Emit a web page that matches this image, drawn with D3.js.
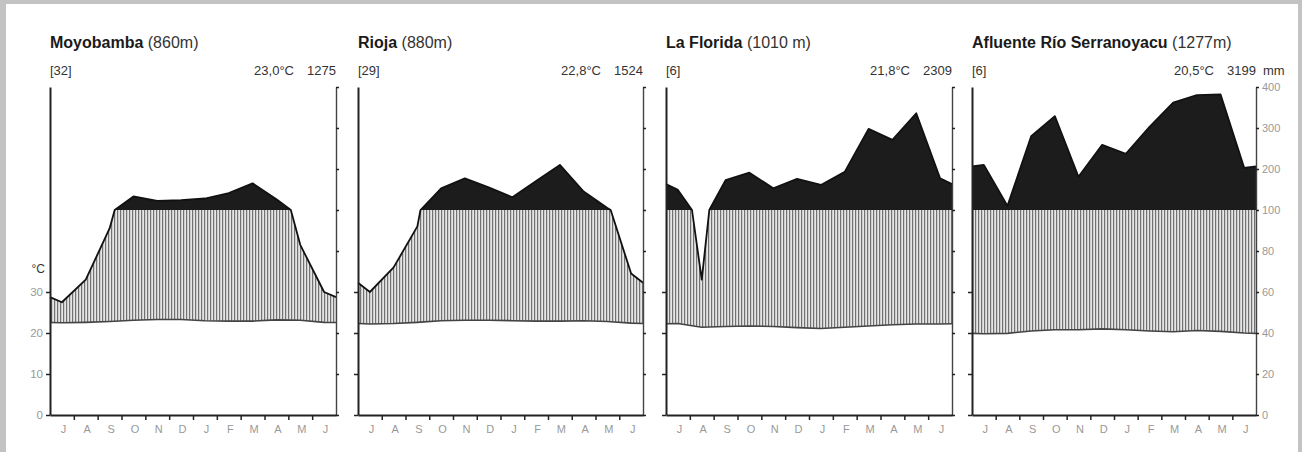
<!DOCTYPE html>
<html><head><meta charset="utf-8">
<script src="https://cdn.jsdelivr.net/npm/d3@7"></script>
<style>
body{margin:0;background:#fff;}
svg{display:block;font-family:"Liberation Sans",Arial,sans-serif;}
</style></head><body>
<svg id="c" width="1302" height="452"></svg>
<script>
// ---- data ----
const months = ["J","A","S","O","N","D","J","F","M","A","M","J"];
const stationNames = ["Moyobamba","Rioja","La Florida","Afluente Río Serranoyacu"];
const elevations = ["(860m)","(880m)","(1010 m)","(1277m)"];
const yearsObserved = ["[32]","[29]","[6]","[6]"];
const meanTempLabels = ["23,0°C","22,8°C","21,8°C","20,5°C"];
const annualPrecipLabels = ["1275","1524","2309","3199"];
const tempTicks = [0,10,20,30];
const precipTicks = [0,20,40,60,80,100,200,300,400];

const tempMoyobamba = [22.5,22.6,22.8,23.1,23.3,23.3,23.0,22.9,22.9,23.2,23.1,22.6];
const tempRioja     = [22.2,22.3,22.6,23.0,23.1,23.1,23.0,22.9,22.9,23.0,22.8,22.4];
const tempLaFlorida = [22.3,21.4,21.6,21.7,21.6,21.3,21.1,21.4,21.7,22.0,22.2,22.2];
const tempAfluente  = [19.8,19.9,20.5,20.8,20.8,21.0,20.8,20.5,20.3,20.6,20.4,20.0];

const precMoyobamba = [55,66,91,133,122,124,128,141,165,126,83,60];
const precRioja     = [60,72,92,153,177,155,131,171,210,145,105,69];
const precLaFlorida = [149,66,173,191,153,176,161,193,298,271,336,177];
const precAfluente  = [210,110,280,329,181,259,237,303,362,380,382,203];

const temps = [tempMoyobamba,tempRioja,tempLaFlorida,tempAfluente];
const precs = [precMoyobamba,precRioja,precLaFlorida,precAfluente];

// ---- layout ----
const panelLeft = [50,358,666,972];
const panelWidth = [286,285,286,284];
const yBottom = 415, yTop = 87;

const svg = d3.select("#c");
svg.append("rect").attr("width",1302).attr("height",452).attr("fill","#c3c3c3");
svg.append("rect").attr("x",6).attr("y",4).attr("width",1292).attr("height",448).attr("fill","#fff");

const defs = svg.append("defs");
const pat = defs.append("pattern").attr("id","hatch").attr("patternUnits","userSpaceOnUse")
  .attr("width",3).attr("height",10);
pat.append("rect").attr("width",3).attr("height",10).attr("fill","#cdcdcd");
pat.append("rect").attr("x",0).attr("width",1).attr("height",10).attr("fill","#727272");
pat.append("rect").attr("x",2).attr("width",0.8).attr("height",10).attr("fill","#ececec");

const yT = d3.scaleLinear().domain([0,80]).range([yBottom,yTop]);
const yP = d3.scaleLinear().domain([0,100,400]).range([yBottom,yT(50),yTop]);

function buildPoints(temp, prec){
  const tEdge=(temp[0]+temp[11])/2, pEdge=(prec[0]+prec[11])/2;
  const pts=[{m:0,t:tEdge,p:pEdge}];
  for(let i=0;i<12;i++) pts.push({m:i+0.5,t:temp[i],p:prec[i]});
  pts.push({m:12,t:tEdge,p:pEdge});
  const out=[pts[0]];
  for(let k=1;k<pts.length;k++){
    const a=pts[k-1], b=pts[k];
    if((a.p-100)*(b.p-100)<0){
      const f=(100-a.p)/(b.p-a.p);
      out.push({m:a.m+f*(b.m-a.m), t:a.t+f*(b.t-a.t), p:100});
    }
    out.push(b);
  }
  return out;
}

for(let s=0;s<4;s++){
  const x0=panelLeft[s], w=panelWidth[s], x1=x0+w;
  const x=d3.scaleLinear().domain([0,12]).range([x0,x1]);
  const g=svg.append("g");
  const pts=buildPoints(temps[s],precs[s]);

  // humid (hatched) area
  g.append("path").datum(pts)
    .attr("d",d3.area().x(d=>x(d.m)).y0(d=>yT(d.t)).y1(d=>yP(Math.min(d.p,100))))
    .attr("fill","url(#hatch)");
  // perhumid (black) area
  g.append("path").datum(pts)
    .attr("d",d3.area().x(d=>x(d.m)).y0(yP(100)).y1(d=>yP(Math.max(d.p,100))))
    .attr("fill","#1c1c1c");
  // temperature line
  g.append("path").datum(pts)
    .attr("d",d3.line().x(d=>x(d.m)).y(d=>yT(d.t)))
    .attr("fill","none").attr("stroke","#444").attr("stroke-width",1.6);
  // precipitation line
  g.append("path").datum(pts)
    .attr("d",d3.line().x(d=>x(d.m)).y(d=>yP(d.p)))
    .attr("fill","none").attr("stroke","#111").attr("stroke-width",1.8).attr("stroke-linejoin","round");

  // left axis
  const la=g.append("g").attr("transform",`translate(${x0},0)`)
    .call(d3.axisLeft(yT).tickValues(tempTicks).tickSize(4).tickSizeOuter(0)
      .tickFormat(s===0?d3.format("d"):()=>""));
  la.select(".domain").attr("stroke","#222").attr("stroke-width",2);
  la.selectAll(".tick line").attr("stroke","#222").attr("stroke-width",1.5);
  la.selectAll(".tick text").attr("fill","#999").attr("font-size",11.5).attr("x",-7)
    .attr("font-family","Liberation Sans, Arial, sans-serif");

  // right axis
  const ra=g.append("g").attr("transform",`translate(${x1},0)`)
    .call(d3.axisRight(yP).tickValues(precipTicks).tickSize(3).tickSizeOuter(0)
      .tickFormat(s===3?d3.format("d"):()=>""));
  ra.select(".domain").attr("stroke","#444").attr("stroke-width",1.4);
  ra.selectAll(".tick line").attr("stroke","#222").attr("stroke-width",1.5);
  ra.selectAll(".tick text").attr("fill","#999").attr("font-size",11).attr("x",6)
    .attr("font-family","Liberation Sans, Arial, sans-serif");

  // bottom axis: month boundaries
  const ba=g.append("g").attr("transform",`translate(0,${yBottom})`)
    .call(d3.axisBottom(x).tickValues(d3.range(1,12)).tickSize(5).tickSizeOuter(0).tickFormat(()=>""));
  ba.select(".domain").attr("stroke","#222").attr("stroke-width",2);
  ba.selectAll(".tick line").attr("stroke","#222").attr("stroke-width",1.5);
  // month labels
  const ml=g.append("g").attr("transform",`translate(1,${yBottom})`)
    .call(d3.axisBottom(x).tickValues(d3.range(12).map(i=>i+0.5)).tickSize(0)
      .tickFormat((d,i)=>months[i]));
  ml.select(".domain").remove();
  ml.selectAll(".tick text").attr("fill","#999").attr("font-size",11).attr("dy","0").attr("y",18)
    .attr("font-family","Liberation Sans, Arial, sans-serif");

  // titles
  const t=g.append("text").attr("x",x0).attr("y",48).attr("font-size",16).attr("fill","#1a1a1a");
  t.append("tspan").attr("font-weight","bold").text(stationNames[s]);
  t.append("tspan").attr("fill","#333").text(" "+elevations[s]);

  g.append("text").attr("x",x0).attr("y",75).attr("font-size",13).attr("fill","#333").text(yearsObserved[s]);
  g.append("text").attr("x",x1-42).attr("y",75).attr("font-size",13).attr("fill","#333")
    .attr("text-anchor","end").text(meanTempLabels[s]);
  g.append("text").attr("x",x1).attr("y",75).attr("font-size",13).attr("fill","#333")
    .attr("text-anchor","end").text(annualPrecipLabels[s]);
  if(s===3){
    g.append("text").attr("x",x1+7).attr("y",75).attr("font-size",13).attr("fill","#333").text("mm");
  }
  if(s===0){
    g.append("text").attr("x",45).attr("y",273).attr("font-size",12).attr("fill","#333")
      .attr("text-anchor","end").text("°C");
  }
}
</script>
</body></html>
